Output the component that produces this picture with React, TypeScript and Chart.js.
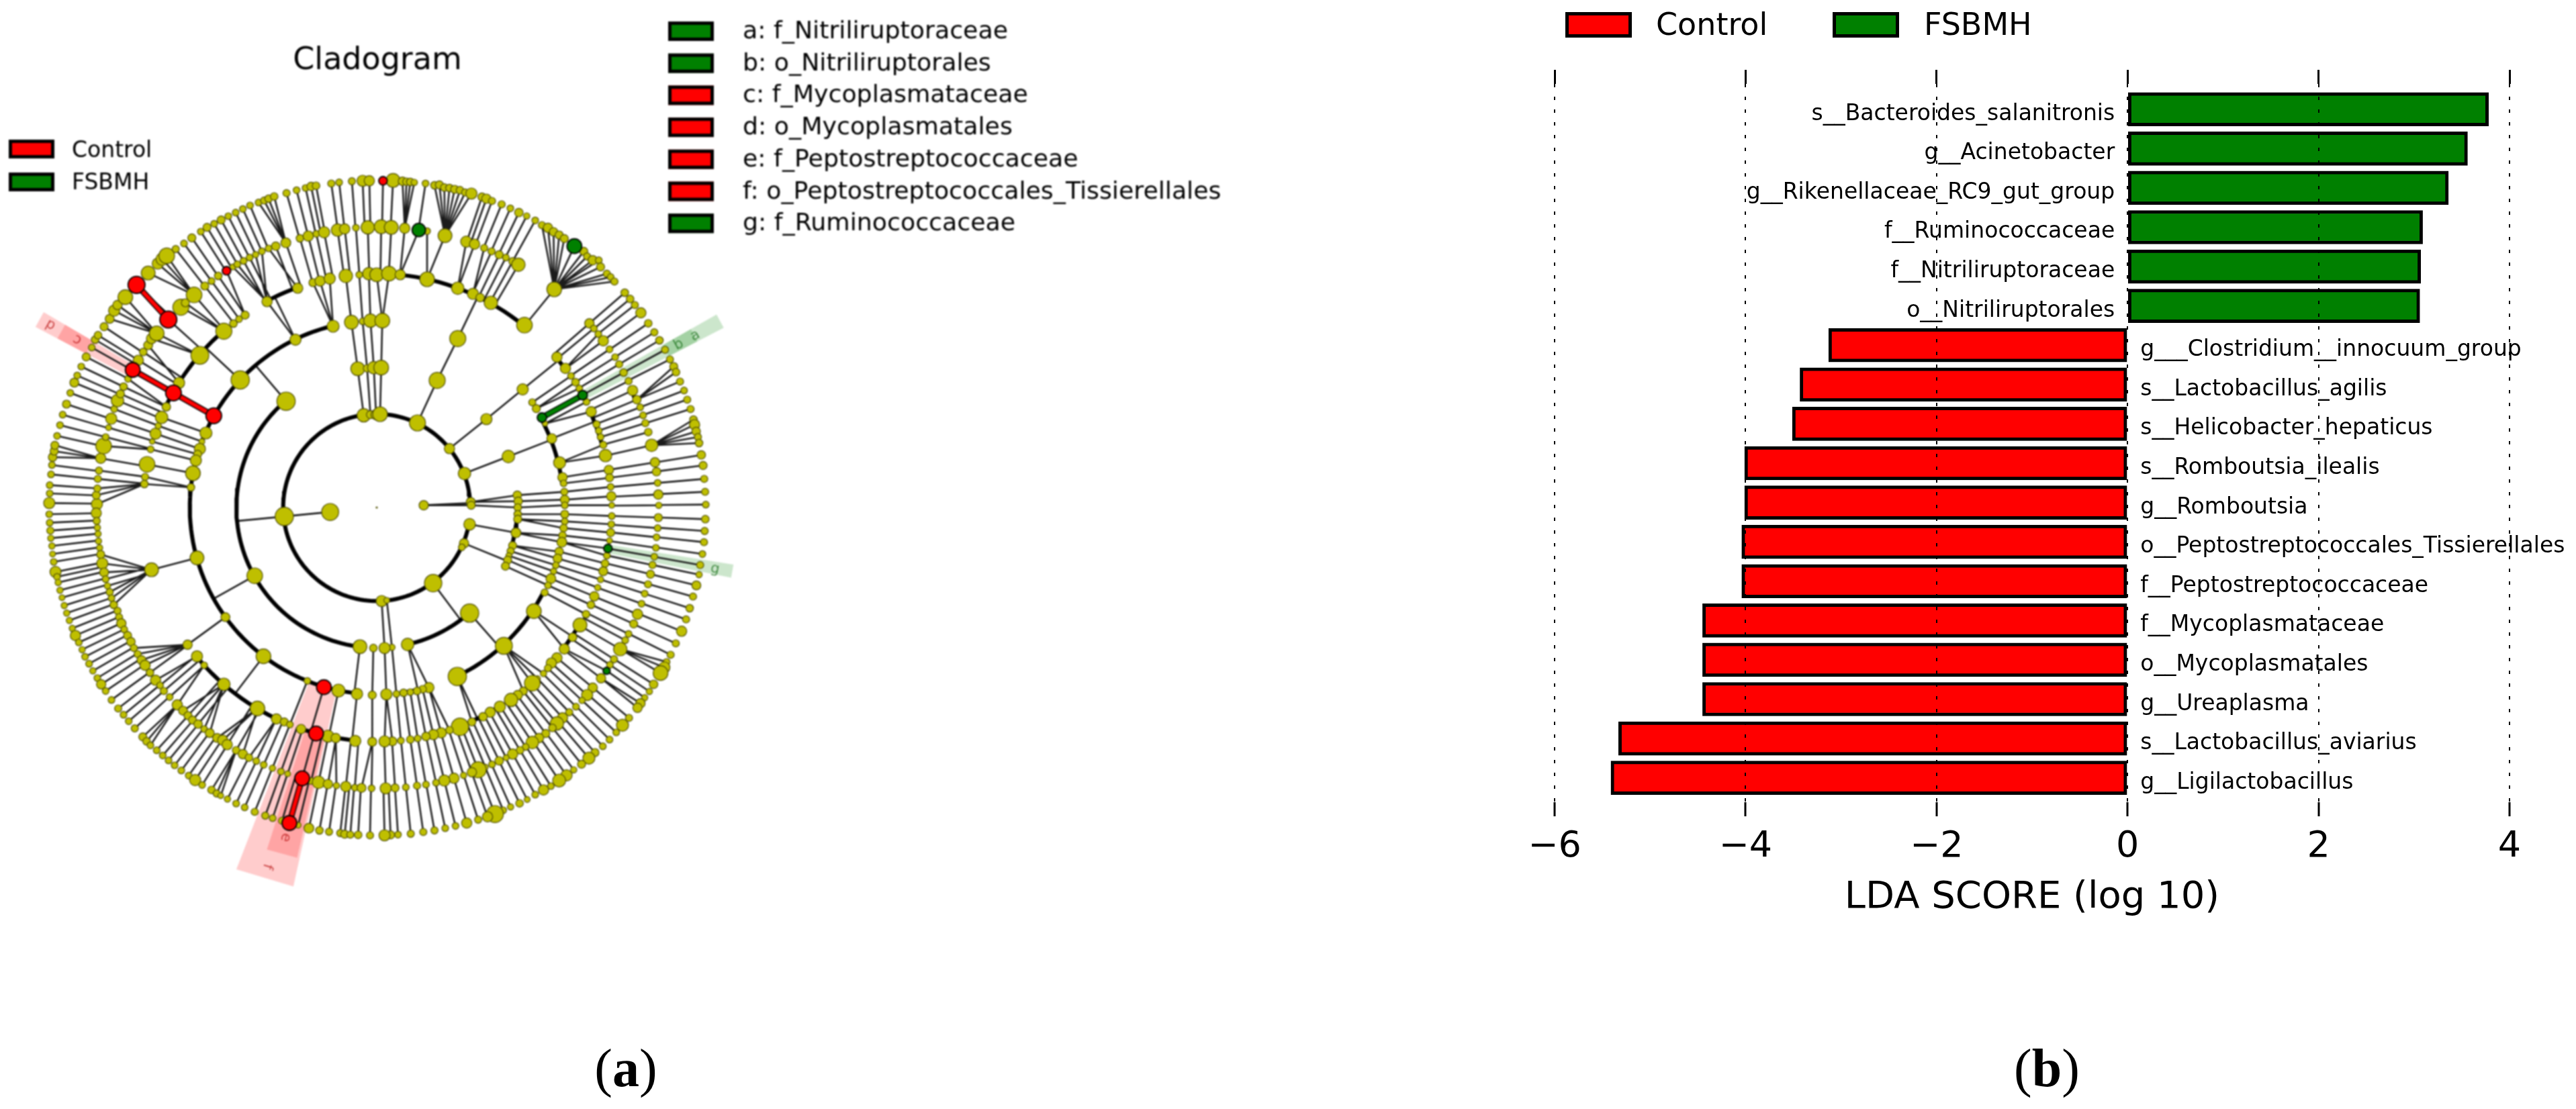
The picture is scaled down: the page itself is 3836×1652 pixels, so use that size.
import React, { useEffect, useRef } from "react";
import { Chart, registerables } from "chart.js";

Chart.register(...registerables);

// ---------- LDA bar panel data ----------
const categories = [
  "s__Bacteroides_salanitronis", "g__Acinetobacter", "g__Rikenellaceae_RC9_gut_group", "f__Ruminococcaceae",
  "f__Nitriliruptoraceae", "o__Nitriliruptorales", "g___Clostridium__innocuum_group", "s__Lactobacillus_agilis",
  "s__Helicobacter_hepaticus", "s__Romboutsia_ilealis", "g__Romboutsia", "o__Peptostreptococcales_Tissierellales",
  "f__Peptostreptococcaceae", "f__Mycoplasmataceae", "o__Mycoplasmatales", "g__Ureaplasma",
  "s__Lactobacillus_aviarius", "g__Ligilactobacillus",
];
const ldaScores = [3.78, 3.56, 3.36, 3.09, 3.07, 3.06, -3.13, -3.43, -3.51, -4.01, -4.01, -4.04, -4.04, -4.45, -4.45, -4.45, -5.33, -5.41];
const xTicks = { min: -6, max: 4, step: 2 };
const groups = ["Control", "FSBMH"];
const axisTitle = "LDA SCORE (log 10)";

// ---------- cladogram legend ----------
const cladeKeys = [
  { text: "a: f_Nitriliruptoraceae", group: 1 },
  { text: "b: o_Nitriliruptorales", group: 1 },
  { text: "c: f_Mycoplasmataceae", group: 0 },
  { text: "d: o_Mycoplasmatales", group: 0 },
  { text: "e: f_Peptostreptococcaceae", group: 0 },
  { text: "f: o_Peptostreptococcales_Tissierellales", group: 0 },
  { text: "g: f_Ruminococcaceae", group: 1 },
];

// ---------- cladogram nodes per quadrant: [x, y, abundance] ----------
const nwNodes = [
  [40,1480,22],[42,1437,12],[42,1400,12],[48,1352,12],[52,1310,12],[55,1275,16],[62,1248,15],[65,1222,15],[75,1180,12],[88,1132,12],[100,1085,12],[117,1038,15],[134,988,12],[152,942,17],[165,910,12],[183,870,12],[205,827,15],[230,785,12],[245,750,14],[258,730,14],[285,692,15],[310,657,17],[330,620,22],[345,595,18],[380,560,30],[482,452,28],[525,410,22],[545,390,25],[565,375,32],[605,345,13],[642,320,12],[677,295,15],[717,267,12],[745,248,15],[777,232,12],[808,215,15],[840,198,12],[873,182,12],[905,166,12],[937,150,12],[975,137,12],[1000,128,13],[1020,120,14],[1045,110,14],[1100,95,13],[1145,82,12],[1185,72,12],[1210,65,16],[1232,62,14],[1300,52,13],[1335,47,12],[1392,42,13],[1440,40,22],[1470,40,20],
  [253,1485,22],[250,1445,15],[255,1415,13],[257,1372,13],[262,1335,13],[270,1280,20],[283,1225,32],[292,1185,12],[305,1143,10],[317,1103,22],[330,1060,12],[345,1022,25],[358,992,15],[372,960,14],[392,925,12],[438,842,20],[460,805,14],[482,775,17],[497,745,20],[520,722,30],[628,605,33],[648,585,15],[687,550,32],[735,510,15],[765,488,12],[795,465,14],[860,425,10],[880,413,12],[908,398,12],[935,383,12],[962,370,11],[990,355,12],[1020,342,12],[1052,332,16],[1097,317,19],[1160,297,14],[1197,287,20],[1233,277,12],[1268,270,22],[1328,260,25],[1360,255,20],[1410,250,12],[1463,248,27],
  [465,1395,14],[468,1363,13],[477,1307,32],[493,1240,12],[500,1205,9],[515,1170,22],[527,1135,11],[542,1097,25],[563,1050,16],[620,943,22],[713,820,37],[820,712,33],[863,678,14],[888,658,12],[915,640,15],[1013,580,20],[1150,520,20],[1218,495,15],[1250,488,20],[1293,477,22],[1365,465,27],[1425,460,12],[1468,455,25],
  [893,930,38],[740,1167,24],[722,1205,10],[713,1238,22],[703,1262,15],[695,1290,22],[682,1347,30],[673,1410,14],[1140,750,22],[1308,690,24],[1390,672,28],[1440,668,12],[1475,665,27],
  [1098,1025,38],[1418,880,28],[1460,878,14],[1490,875,25],
  [1445,1088,27],[1475,1085,15],[1500,1085,20],
];
const nwControl = [[430,505,35],[572,660,35],[413,885,30],[595,988,32],[775,1090,32],[832,442,16]];

const neNodes = [
  [73,38,28],[115,42,16],[133,44,14],[150,45,14],[168,47,11],[218,52,12],[258,60,14],[280,58,15],[302,70,14],[325,72,14],[348,78,15],[372,82,14],[395,92,13],[423,97,22],[470,112,15],[490,120,18],[515,130,13],[558,145,13],[597,163,12],[635,182,16],[670,197,11],[708,217,12],[738,238,13],[765,250,18],[790,268,16],[815,282,15],[838,298,15],[925,355,15],[940,378,13],[965,395,18],[992,395,12],[1000,425,15],[1028,455,13],[1045,470,12],[1062,490,13],
  [1108,540,14],[1132,568,14],[1153,595,13],[1180,630,20],[1213,677,14],[1240,717,13],[1263,753,14],[1288,795,13],[1310,838,13],[1327,870,15],[1337,895,14],[1355,937,13],[1373,977,12],[1387,1018,13],[1402,1060,13],[1415,1107,14],[1420,1130,20],[1427,1160,16],[1435,1185,13],[1440,1212,14],[1450,1265,16],[1458,1312,15],[1463,1372,13],[1467,1430,13],[1470,1487,12],
  [20,245,28],[65,248,28],[125,252,20],[225,265,12],[305,285,28],[400,312,22],[437,323,20],[480,340,13],[513,355,13],[547,370,15],[577,383,12],[607,400,14],[633,415,27],[793,525,30],[950,677,18],[970,700,12],[990,725,12],[1012,755,20],[1040,793,12],[1065,828,12],[1083,860,13],[1103,897,14],[1125,935,13],[1143,977,20],[1162,1018,16],[1177,1052,12],[1190,1088,12],[1200,1123,13],[1213,1163,14],[1228,1222,25],[1243,1298,18],[1250,1340,16],[1255,1390,12],[1258,1442,18],[1260,1490,11],
  [0,460,28],[55,455,30],[105,460,20],[225,480,30],[362,520,25],[430,545,22],[462,562,16],[510,585,27],[660,685,32],
  [805,828,20],[843,878,20],[868,912,12],[888,940,14],[905,968,12],[937,1028,12],[958,1072,20],[982,1128,13],[992,1157,12],[1000,1185,12],[1012,1220,13],[1022,1268,25],[1037,1332,18],[1040,1367,15],[1045,1408,12],[1048,1450,18],[1050,1490,10],
  [25,665,30],[362,745,33],[652,972,22],[695,1030,13],[713,1058,15],[752,1125,9],[782,1192,19],[817,1300,24],[830,1365,18],[835,1392,12],[838,1430,13],[840,1465,17],[840,1490,12],
  [20,875,30],[270,932,33],[490,1105,22],[588,1272,25],[628,1445,16],[632,1472,16],[630,1500,14],
  [15,1083,30],[182,1122,33],[325,1237,20],[392,1348,25],[420,1475,17],[422,1490,15],
  [210,1490,18],
];
const neControl = [[28,40,16]];
const neFsbmh = [[188,260,27],[883,332,30],[920,998,18],[738,1098,18]];

const swNodes = [
  [40,30,12],[42,68,12],[45,103,13],[47,137,11],[52,172,11],[55,208,10],[60,243,12],[68,288,22],[75,310,12],[80,335,11],[88,370,11],[97,403,10],[107,438,11],[118,472,11],[130,505,11],[143,540,11],[157,572,20],[172,603,12],[187,635,11],[200,667,12],[218,698,12],[235,730,11],[255,762,12],[272,790,18],[292,820,12],[318,860,12],[348,898,13],[372,926,12],[395,955,12],[422,987,13],[458,1025,15],[475,1045,14],[492,1063,12],[520,1085,12],[547,1108,12],[573,1130,12],[600,1152,12],[630,1175,12],[663,1198,12],[692,1218,22],[723,1240,12],[765,1262,14],[788,1278,13],[806,1288,10],[836,1303,11],[875,1323,12],[913,1340,12],[958,1360,13],[1005,1377,13],[1038,1388,12],[1080,1400,13],[1152,1420,10],[1200,1433,19],[1247,1443,14],[1290,1449,13],[1340,1455,13],[1360,1460,15],[1385,1462,13],[1420,1463,14],[1473,1465,13],
  [250,25,20],[252,60,13],[255,90,11],[258,118,11],[260,150,11],[265,180,11],[270,210,15],[277,250,22],[285,290,17],[292,320,12],[300,350,11],[310,378,13],[318,405,12],[328,435,14],[345,462,13],[352,490,13],[362,518,18],[375,545,12],[390,572,15],[405,600,16],[418,628,13],[435,655,13],[452,682,17],[468,705,20],[490,738,14],[515,772,20],[535,795,12],[552,820,13],[578,847,12],[612,882,20],[638,908,17],[660,930,15],[680,950,15],[705,968,16],[732,990,12],[757,1008,17],[790,1030,17],[815,1040,20],[835,1060,20],[875,1085,14],[905,1102,18],[932,1118,14],[965,1133,12],[998,1150,12],[1037,1165,11],[1075,1180,12],[1105,1190,10],[1210,1222,12],[1243,1228,25],[1285,1236,18],[1323,1243,11],[1365,1247,20],[1405,1252,12],[1435,1253,17],[1480,1255,12],
  [497,278,28],[658,613,18],[700,665,22],[732,705,12],[820,790,25],[970,898,30],[1055,945,20],[1090,958,15],[1115,970,12],[1165,990,18],[1285,1022,24],[1320,1030,18],[1407,1043,22],[1483,1047,17],
  [700,225,28],[827,490,17],[997,665,30],[1193,775,12],[1332,818,26],[1415,833,22],[1483,838,15],
  [958,305,32],[1428,622,28],[1488,628,14],
  [1090,40,38],
  [1295,20,35],
];
const swControl = [[1267,803,30],[1232,1010,30],[1170,1210,30],[1113,1410,30]];

const seNodes = [
  [1468,52,14],[1465,105,13],[1462,155,13],[1455,208,12],[1445,257,13],[1440,300,11],[1428,348,17],[1413,398,13],[1398,450,14],[1382,500,13],[1362,553,20],[1336,607,13],[1313,658,13],[1295,690,12],[1285,715,22],[1268,740,30],[1237,790,16],[1218,822,11],[1197,850,11],[1178,875,18],[1165,895,18],[1127,940,13],[1098,973,24],[1070,1005,12],[1040,1037,12],[1010,1067,12],[975,1095,15],[948,1120,24],[915,1147,15],[880,1172,11],[848,1197,22],[815,1220,26],[778,1245,12],[745,1262,20],[708,1283,12],[672,1305,10],[638,1322,14],[598,1338,11],[565,1353,12],[528,1370,35],[495,1382,20],[453,1395,13],[402,1410,20],[352,1423,12],[306,1433,12],[258,1443,13],[208,1450,13],[152,1458,13],[95,1462,12],[62,1463,15],[35,1465,22],
  [1258,45,15],[1255,92,12],[1250,133,12],[1247,180,12],[1240,220,12],[1232,257,13],[1223,298,15],[1212,343,13],[1197,385,12],[1183,430,12],[1165,477,20],[1148,520,15],[1125,565,12],[1110,593,12],[1088,633,27],[1060,678,13],[1042,703,12],[1002,763,18],[965,805,18],[940,838,22],[917,862,11],[890,890,12],[860,915,13],[830,940,20],[805,965,27],[785,985,14],[755,1010,15],[725,1030,18],[695,1050,25],[665,1070,12],[640,1085,14],[607,1102,20],[578,1118,10],[547,1132,16],[515,1148,12],[485,1160,10],[453,1172,33],[425,1183,18],[388,1197,11],[345,1210,20],[302,1220,22],[265,1230,12],[220,1238,12],[180,1243,13],[130,1250,12],[82,1253,15],[40,1255,22],
  [1050,38,12],[1048,75,12],[1045,112,15],[1040,148,10],[1028,215,12],[1020,250,14],[1012,285,17],[1000,322,11],[987,358,11],[972,397,18],[957,435,14],[935,477,14],[908,525,28],[875,580,16],[838,632,20],[805,672,20],[780,695,20],[765,718,13],[745,742,11],[718,765,10],[695,785,32],[655,820,15],[630,838,18],[600,860,27],[550,890,22],[507,915,20],[475,935,16],[425,958,15],[372,980,36],[325,995,14],[288,1007,20],[253,1015,20],[220,1023,16],[183,1032,12],[150,1037,14],[108,1042,12],[70,1045,17],[35,1045,22],
  [840,30,15],[840,62,12],[835,92,14],[830,125,14],[827,155,19],[815,197,16],[808,228,17],[800,258,12],[790,285,11],[778,318,19],[765,348,12],[750,380,13],[702,463,30],[568,618,35],[360,755,38],[233,805,20],[205,812,14],[180,820,14],[150,825,12],[120,828,14],[88,833,12],[43,835,22],
  [630,30,14],[630,52,15],[622,113,19],[607,170,15],[598,195,13],[590,215,10],[585,235,15],[575,262,15],[415,472,38],[138,612,25],[68,625,11],[35,628,22],
  [415,75,23],[390,160,18],[380,178,12],[252,338,36],[22,418,22],[45,415,10],
];
const seFsbmh = [[1033,183,16],[1027,730,13]];

// thick arcs joining siblings: [level, from degree, to degree]
const siblingArcs = [
  [2,2,350],
  [3,130.4,265.5],[3,282.7,311.3],[3,335.5,356],
  [4,103.5,264],[4,295.5,333.5],[4,7,28.5],[4,278,286],
  [5,51,84.2],[5,109.8,118],[5,130.9,155],[5,219.6,248],[5,251,265],[5,294,301],[5,323,330],[5,36.4,40],[5,15.5,24],
  [6,22.5,24.5],
];
// leaves that all hang from one family node: [parent degree, from degree, to degree]
const fans = [
  [50.9,43,60],[12.8,11,15.8],[76,73,80],[84,83.2,85.8],[130.7,129.5,135],[141.6,139.5,145],[169.9,168.7,171.5],[109,107.9,111.5],
  [329.8,329.5,332.5],[322.7,322,323.8],[23.2,23.8,25.6],[224.7,224,226.5],[239.9,239,242],
];
const levels = [0,210,418,627,835,1045,1252,1465];

// enriched clades: [label, group, from degree, to degree, inner radius, outer radius, label radius]
const cladeBands = [
  ["a",1,27.4,29.6,1047,1746,1617],
  ["b",1,27.4,29.6,1470,1614,1533],
  ["c",0,149.6,152.1,1470,1614,1534],
  ["d",0,149.6,152.1,1251,1725,1670],
  ["e",0,252.2,257.2,1047,1605,1530],
  ["f",0,248.8,257.6,837,1734,1677],
  ["g",1,-11.2,-9.1,1047,1614,1536],
];
const controlBranches = [["nw",775,1090,413,885],["nw",572,660,430,505],["sw",1170,1210,1113,1410]];
const fsbmhBranches = [["ne",738,1098,920,998]];

const RED = "#ff0000";
const GREEN = "#008000";
const OLIVE = "#bfbf00";
const groupColor = [RED, GREEN];
const FONT = '"DejaVu Sans"';

const convert: any = {
  nw: (x: number, y: number) => ({ x: x - 1503, y: 1500 - y }),
  ne: (x: number, y: number) => ({ x, y: 1500 - y }),
  sw: (x: number, y: number) => ({ x: x - 1503, y: -y }),
  se: (x: number, y: number) => ({ x, y: -y }),
};
const polar = (deg: number, r: number) => ({ x: r * Math.cos((deg * Math.PI) / 180), y: r * Math.sin((deg * Math.PI) / 180) });
const build = (q: string, list: number[][]) =>
  list.map(([x, y, s]) => {
    const p = convert[q](x, y);
    const r = Math.hypot(p.x, p.y);
    let a = (Math.atan2(p.y, p.x) * 180) / Math.PI;
    if (a < 0) a += 360;
    return { ...p, s, a, lvl: Math.round(r / 209) };
  });
const angDiff = (a: number, b: number) => {
  const d = Math.abs(a - b) % 360;
  return d > 180 ? 360 - d : d;
};
const GAP = { x: NaN, y: NaN };

function makeCladogram() {
  const olive = [...build("nw", nwNodes), ...build("ne", neNodes), ...build("sw", swNodes), ...build("se", seNodes)];
  const control = [...build("nw", nwControl), ...build("ne", neControl), ...build("sw", swControl)];
  const fsbmh = [...build("ne", neFsbmh), ...build("se", seFsbmh)];
  const all = [...olive, ...control, ...fsbmh];
  const byLevel: any[][] = [[], [], [], [], [], [], [], []];
  all.forEach((n) => byLevel[n.lvl] && byLevel[n.lvl].push(n));
  const nearest = (lvl: number, a: number, within: number) => {
    let best: any = null;
    let bd = within;
    for (const n of byLevel[lvl]) {
      const d = angDiff(n.a, a);
      if (d <= bd) { bd = d; best = n; }
    }
    return best;
  };
  const inRange = (a: number, from: number, to: number) => {
    const span = (to - from + 360) % 360;
    return ((a - from + 360) % 360) <= span;
  };
  const onArc = (lvl: number, a: number) => siblingArcs.some(([l, f, t]) => l === lvl && inRange(a, f, t));
  const edges: any[] = [];
  const link = (p: any, q: any) => edges.push({ x: p.x, y: p.y }, { x: q.x, y: q.y }, GAP);
  // a spoke stays parallel to its neighbours when a parent lies close by, else it runs to the parent
  const spoke = (n: any, lvl: number, within: number) => {
    const parent = nearest(lvl, n.a, within);
    if (!parent) return;
    if (angDiff(parent.a, n.a) <= 1.6) link(n, polar(n.a, levels[lvl]));
    else link(n, parent);
  };
  for (const n of byLevel[7]) {
    const fan = fans.find(([, f, t]) => inRange(n.a, f, t));
    if (fan) {
      const parent = nearest(6, fan[0], 3);
      if (parent) link(n, parent);
    } else spoke(n, 6, 9);
  }
  for (const n of byLevel[6]) spoke(n, 5, 6);
  // inner levels: a spoke out to the sibling arc, or straight to a lone child
  for (let k = 1; k <= 4; k++) {
    for (const n of byLevel[k]) {
      if (onArc(k + 1, n.a)) link(n, polar(n.a, levels[k + 1]));
    }
    for (const c of byLevel[k + 1]) {
      if (!onArc(k + 1, c.a)) {
        const parent = nearest(k, c.a, 4);
        if (parent) link(c, parent);
      }
    }
  }
  const arcs: any[] = [];
  for (const [l, f, t] of siblingArcs) {
    const span = (t - f + 360) % 360;
    const n = Math.ceil(span / 2);
    for (let i = 0; i <= n; i++) arcs.push(polar(f + (span * i) / n, levels[l]));
    arcs.push(GAP);
  }
  const branch = (list: any[]) =>
    list.flatMap(([q, x1, y1, x2, y2]) => [convert[q](x1, y1), convert[q](x2, y2), GAP]);
  const nodeSet = (label: string, nodes: any[], color: string, edge: string, bw: number, order: number) => ({
    type: "scatter", label, data: nodes.map((n) => ({ x: n.x, y: n.y })), order,
    pointRadius: nodes.map((n) => n.s / 3 + 1), pointBackgroundColor: color, pointBorderColor: edge, pointBorderWidth: bw, pointHoverRadius: 0,
  });
  const lineSet = (label: string, data: any[], color: string, width: number, order: number) => ({
    type: "line", label, data, borderColor: color, borderWidth: width, pointRadius: 0, spanGaps: false, order, tension: 0, fill: false,
  });
  const bands = cladeBands.map(([name, g, a0, a1, r0, r1]: any, i) => ({
    type: "line", label: "clade " + name,
    data: [polar(a0, r0), polar(a1, r0), polar(a1, r1), polar(a0, r1)],
    borderWidth: 0, pointRadius: 0, fill: "shape", order: 50 + i,
    backgroundColor: g === 0 ? "rgba(255,0,0,0.2)" : "rgba(0,128,0,0.2)",
  }));
  return [
    nodeSet("Control nodes", control, RED, "#000", 1.8, 1),
    nodeSet("FSBMH nodes", fsbmh, GREEN, "#000", 1.8, 2),
    nodeSet("Other nodes", [...olive, { x: 0, y: 0, s: 0 }], OLIVE, "#4a4a00", 1.2, 3),
    lineSet("Control branch", branch(controlBranches), RED, 6, 4),
    lineSet("FSBMH branch", branch(fsbmhBranches), GREEN, 6, 5),
    lineSet("Branch outline", branch([...controlBranches, ...fsbmhBranches]), "#000", 9, 6),
    lineSet("Sibling arcs", arcs, "#000", 6, 7),
    lineSet("Edges", edges, "#1c1c1c", 2.6, 8),
    ...bands,
  ];
}

const put = (ctx: any, text: string, x: number, y: number, size: number, align = "left", color = "#000") => {
  ctx.save();
  ctx.font = `${size}px ${FONT}`;
  ctx.textAlign = align;
  ctx.textBaseline = "alphabetic";
  ctx.fillStyle = color;
  ctx.fillText(text, x, y);
  ctx.restore();
};
const swatch = (ctx: any, x: number, y: number, w: number, h: number, color: string, lw: number) => {
  ctx.save();
  ctx.fillStyle = color;
  ctx.fillRect(x, y, w, h);
  ctx.strokeStyle = "#000";
  ctx.lineWidth = lw;
  ctx.strokeRect(x + lw / 2, y + lw / 2, w - lw, h - lw);
  ctx.restore();
};

const cladogramText = {
  id: "cladogramText",
  afterDraw(chart: any) {
    const { ctx, scales } = chart;
    put(ctx, "Cladogram", 562, 103, 46, "center");
    groups.forEach((g, i) => {
      swatch(ctx, 13, 208 + i * 49, 68, 28, groupColor[i], 5);
      put(ctx, g, 107, 234 + i * 48, 33);
    });
    cladeKeys.forEach((k, i) => {
      swatch(ctx, 995, 32 + i * 47.7, 68, 29, groupColor[k.group], 5);
      put(ctx, k.text, 1106, 57 + i * 47.7, 36.3);
    });
    cladeBands.forEach(([name, g, a0, a1, , , rl]: any) => {
      const mid = (a0 + a1) / 2;
      const p = polar(mid, rl);
      ctx.save();
      ctx.translate(scales.x.getPixelForValue(p.x), scales.y.getPixelForValue(p.y));
      ctx.rotate((-mid * Math.PI) / 180);
      ctx.globalAlpha = 0.65;
      put(ctx, name, 0, 7, 21, "center", g === 0 ? "#b00000" : "#006000");
      ctx.restore();
    });
  },
};

const barText = {
  id: "barText",
  afterDatasetsDraw(chart: any) {
    const { ctx, scales } = chart;
    const zero = scales.x.getPixelForValue(0);
    categories.forEach((c, i) => {
      const y = scales.y.getPixelForValue(i + 1) + 16;
      if (ldaScores[i] > 0) put(ctx, c, zero - 19, y, 33, "right");
      else put(ctx, c, zero + 19, y, 33, "left");
    });
  },
  afterDraw(chart: any) {
    const { ctx } = chart;
    const boxX = [131, 529];
    const textX = [266, 665];
    groups.forEach((g, i) => {
      swatch(ctx, boxX[i], 18, 99, 38, groupColor[i], 5);
      put(ctx, g, textX[i], 52, 46);
    });
  },
};

export default function App() {
  const left = useRef<HTMLCanvasElement>(null);
  const right = useRef<HTMLCanvasElement>(null);
  useEffect(() => {
    const clad = new Chart(left.current as any, {
      type: "scatter",
      data: { datasets: makeCladogram() as any },
      options: {
        animation: false, responsive: false, devicePixelRatio: 1, clip: false as any,
        layout: { padding: 0, autoPadding: false },
        plugins: { legend: { display: false }, tooltip: { enabled: false }, title: { display: false } },
        scales: {
          x: { type: "linear", display: false, bounds: "data", min: -1683, max: 4317 },
          y: { type: "linear", display: false, bounds: "data", min: -2688, max: 2268 },
        },
      },
      plugins: [cladogramText],
    } as any);
    const rows = categories.map((_, i) => i + 1);
    const bars = new Chart(right.current as any, {
      type: "bar",
      data: {
        datasets: groups.map((g, gi) => ({
          label: g,
          data: ldaScores
            .map((v, i) => ({ x: v, y: rows[i] }))
            .filter((p) => (gi === 0 ? p.x < 0 : p.x > 0)),
          backgroundColor: groupColor[gi],
          borderColor: "#000",
          borderWidth: 5,
          borderSkipped: false,
          barThickness: 50,
          grouped: false,
        })),
      },
      options: {
        indexAxis: "y", animation: false, responsive: false, devicePixelRatio: 1,
        layout: { padding: { left: 115, right: 99, top: 104, bottom: 281 } },
        plugins: { legend: { display: false }, tooltip: { enabled: false }, title: { display: false } },
        scales: {
          x: {
            type: "linear", position: "bottom", min: xTicks.min, max: xTicks.max,
            ticks: {
              stepSize: xTicks.step, color: "#000", padding: 14, maxRotation: 0,
              font: { size: 54, family: FONT },
              callback: (v: number) => String(v).replace("-", "\u2212"),
            },
            grid: { color: "#000", lineWidth: 2, z: 1, tickLength: 21, tickColor: "#000", tickWidth: 3, tickBorderDash: [] },
            border: { display: false, dash: [5, 14] },
            title: { display: true, text: axisTitle, color: "#000", font: { size: 56, family: FONT }, padding: 0 },
            afterFit: (s: any) => { s.height = 176; },
          },
          xTop: {
            type: "linear", axis: "x", position: "top", min: xTicks.min, max: xTicks.max,
            ticks: { stepSize: xTicks.step, display: false },
            grid: { drawOnChartArea: false, tickLength: 21, tickColor: "#000", tickWidth: 3 },
            border: { display: false },
          },
          y: { type: "linear", display: false, bounds: "data", reverse: true, offset: false, min: 0.356, max: 18.62 },
        },
      },
      plugins: [barText],
    } as any);
    return () => { clad.destroy(); bars.destroy(); };
  }, []);
  const caption = (x: number, letter: string) => (
    <div style={{ position: "absolute", left: x - 100, width: 200, top: 1541, textAlign: "center", fontFamily: '"Liberation Serif"', fontSize: 80, lineHeight: "100px", color: "#000" }}>
      (<b>{letter}</b>)
    </div>
  );
  return (
    <div style={{ position: "absolute", left: 0, top: 0, width: 3836, height: 1652, overflow: "hidden", background: "#fff" }}>
      <canvas ref={left} width={2000} height={1652} style={{ position: "absolute", left: 0, top: 0, width: 2000, height: 1652, filter: "blur(1px)" }} />
      <canvas ref={right} width={1636} height={1652} style={{ position: "absolute", left: 2200, top: 0, width: 1636, height: 1652 }} />
      {caption(932, "a")}
      {caption(3048, "b")}
    </div>
  );
}
